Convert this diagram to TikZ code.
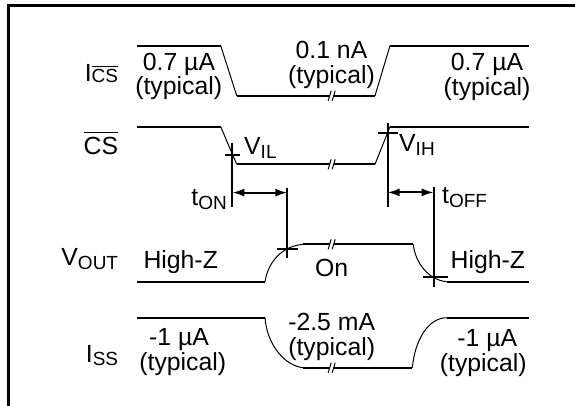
\documentclass[tikz,border=0pt]{standalone}
\usepackage{fontspec}
\setmainfont{Liberation Sans}
\usetikzlibrary{arrows.meta}
\newcommand{\lowsub}[2][4pt]{\raisebox{-#1}{\fontsize{19}{20}\selectfont #2}}
\newcommand{\ovbar}[2][4.5pt]{\leavevmode\vbox{\hrule height 1.3pt\kern#1\hbox{#2}}}
\tikzset{
  wave/.style={line width=2pt},
  edgeline/.style={line width=1pt},
  marker/.style={line width=2pt},
  frameline/.style={line width=2.4pt},
  dimarrow/.style={line width=2pt,{Latex[length=12pt,width=8pt]}-{Latex[length=12pt,width=8pt]}},
  lbl/.style={inner sep=0pt, font=\fontsize{24.8}{27}\selectfont},
  brk/.pic={
    \fill[white] (-3.5,5) -- (-0.5,-5) -- (3.5,-5) -- (0.5,5) -- cycle;
    \draw[line width=1pt] (-3.5,5) -- (-0.5,-5);
    \draw[line width=1pt] (0.5,5) -- (3.5,-5);
  }
}
\begin{document}
\begin{tikzpicture}[x=1pt,y=-1pt]
\useasboundingbox (0,0) rectangle (575,406);
% frame
\coordinate (fbl) at (8.6,406);
\coordinate (ftl) at (8.6,5.4);
\coordinate (ftr) at (575,5.4);
\draw[frameline] (fbl) -- (ftl) -- (ftr);

% I_CS waveform
\coordinate (ics1) at (137,45.7);
\coordinate (ics2) at (220.7,45.7);
\coordinate (ics3) at (236.7,95.7);
\coordinate (ics4) at (375,95.7);
\coordinate (ics5) at (390,45.7);
\coordinate (ics6) at (529,45.7);
\draw[wave] (ics1) -- (ics2);
\draw[edgeline] (ics2) -- (ics3);
\draw[wave] (ics3) -- (ics4);
\draw[edgeline] (ics4) -- (ics5);
\draw[wave] (ics5) -- (ics6);
\pic at (331.7,95.7) {brk};

% CS waveform
\coordinate (cs1) at (137,126.7);
\coordinate (cs2) at (220.7,126.7);
\coordinate (cs3) at (236.7,164.3);
\coordinate (cs4) at (375,164.3);
\coordinate (cs5) at (390,126.7);
\coordinate (cs6) at (529,126.7);
\draw[wave] (cs1) -- (cs2);
\draw[edgeline] (cs2) -- (cs3);
\draw[wave] (cs3) -- (cs4);
\draw[edgeline] (cs4) -- (cs5);
\draw[wave] (cs5) -- (cs6);
\pic at (331.7,164.3) {brk};

% VOUT waveform
\coordinate (v1) at (137,281.7);
\coordinate (v2) at (265,281.7);
\coordinate (v3) at (303.3,244.3);
\coordinate (v4) at (413.3,244.3);
\coordinate (v5) at (446.7,281.7);
\coordinate (v6) at (529,281.7);
\draw[wave] (v1) -- (v2);
\draw[edgeline] (v2) .. controls (268,262) and (282,246) .. (v3);
\draw[wave] (v3) -- (v4);
\draw[edgeline] (v4) .. controls (415,262) and (428,280) .. (v5);
\draw[wave] (v5) -- (v6);
\pic at (331.7,244.3) {brk};

% ISS waveform
\coordinate (i1) at (137,317.7);
\coordinate (i2) at (265,317.7);
\coordinate (i3) at (303.3,367.7);
\coordinate (i4) at (412.3,367.7);
\coordinate (i5) at (446.7,317.7);
\coordinate (i6) at (529,317.7);
\draw[wave] (i1) -- (i2);
\draw[edgeline] (i2) .. controls (267,345) and (285,366) .. (i3);
\draw[wave] (i3) -- (i4);
\draw[edgeline] (i4) .. controls (415,340) and (428,318) .. (i5);
\draw[wave] (i5) -- (i6);
\pic at (331.7,367.7) {brk};

% markers
\coordinate (vilT) at (232.3,143);
\coordinate (vilB) at (232.3,207);
\coordinate (vilL) at (225,155);
\coordinate (vilR) at (240,155);
\draw[marker] (vilT) -- (vilB);
\draw[marker] (vilL) -- (vilR);

\coordinate (vihT) at (387.5,123);
\coordinate (vihB) at (387.5,206.7);
\coordinate (vihL) at (378,133.3);
\coordinate (vihR) at (398,133.3);
\draw[marker] (vihT) -- (vihB);
\draw[marker] (vihL) -- (vihR);

\coordinate (onT) at (287.3,188);
\coordinate (onB) at (287.3,258);
\coordinate (onL) at (277,249.3);
\coordinate (onR) at (298,249.3);
\draw[marker] (onT) -- (onB);
\draw[marker] (onL) -- (onR);

\coordinate (offT) at (433.7,187);
\coordinate (offB) at (433.7,287.3);
\coordinate (offL) at (423,277.3);
\coordinate (offR) at (448.3,277.3);
\draw[marker] (offT) -- (offB);
\draw[marker] (offL) -- (offR);

% timing arrows
\coordinate (tonA) at (232.3,192.6);
\coordinate (tonB) at (287.3,192.6);
\coordinate (toffA) at (387.5,192.4);
\coordinate (toffB) at (433.7,192.4);
\draw[dimarrow] (tonA) -- (tonB);
\draw[dimarrow] (toffA) -- (toffB);

% row labels
\node[lbl, anchor=base east] (lics) at (118.3,81.7) {I\lowsub[1pt]{\ovbar[2pt]{CS}}};
\node[lbl, anchor=base east] (lcs) at (118.3,155) {\ovbar{CS}};
\node[lbl, anchor=base east] (lvout) at (118.3,265) {V\lowsub{OUT}};
\node[lbl, anchor=base east] (liss) at (118.3,362.3) {I\lowsub[3pt]{SS}};

% I_CS texts
\node[lbl, anchor=base] (a1) at (179,70.5) {0.7 µA};
\node[lbl, anchor=base] (a2) at (178.7,94.6) {(typical)};
\node[lbl, anchor=base] (b1) at (331.5,58.5) {0.1 nA};
\node[lbl, anchor=base] (b2) at (331.5,83.3) {(typical)};
\node[lbl, anchor=base] (c1) at (487,71) {0.7 µA};
\node[lbl, anchor=base] (c2) at (487,95.3) {(typical)};

% threshold and timing labels
\node[lbl, anchor=base west] (vil) at (244,155) {V\lowsub{IL}};
\node[lbl, anchor=base west] (vih) at (399,152) {V\lowsub{IH}};
\node[lbl, anchor=base east] (ton) at (227,205) {t\lowsub{ON}};
\node[lbl, anchor=base west] (toff) at (442,204) {t\lowsub{OFF}};

% VOUT texts
\node[lbl, anchor=base west] (hz1) at (143.3,268.3) {High-Z};
\node[lbl, anchor=base] (on) at (331.7,276.7) {On};
\node[lbl, anchor=base] (hz2) at (487.8,268.3) {High-Z};

% ISS texts
\node[lbl, anchor=base] (d1) at (179,345) {-1 µA};
\node[lbl, anchor=base] (d2) at (182.8,370) {(typical)};
\node[lbl, anchor=base] (e1) at (331.7,330) {-2.5 mA};
\node[lbl, anchor=base] (e2) at (331.7,355) {(typical)};
\node[lbl, anchor=base] (f1) at (487.3,346) {-1 µA};
\node[lbl, anchor=base] (f2) at (483.3,371.7) {(typical)};
\end{tikzpicture}
\end{document}
